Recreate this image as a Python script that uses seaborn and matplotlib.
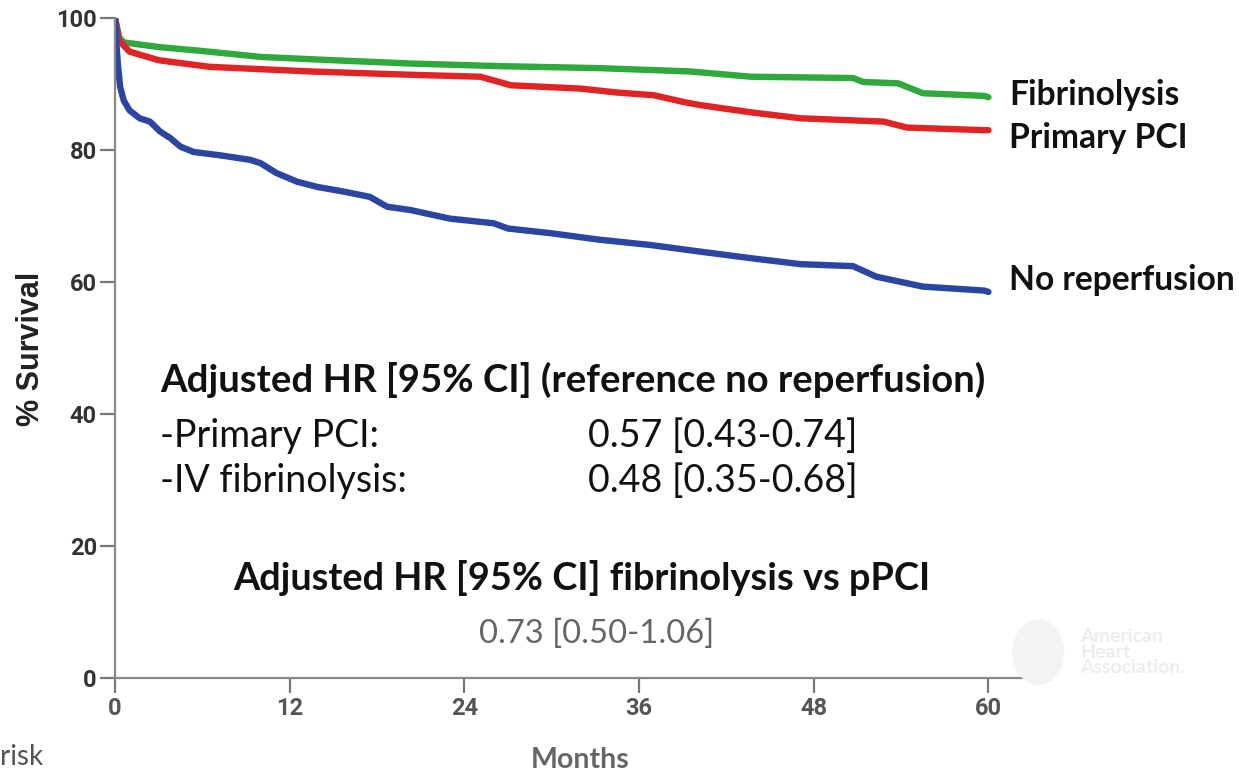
import matplotlib
matplotlib.use("Agg")
import matplotlib.pyplot as plt
from matplotlib.patches import Ellipse
import seaborn as sns
import pandas as pd

# ---- data ----
fib_months = [0, 0.3, 0.6, 3, 6, 10, 15, 20.3, 26.5, 33.3, 39.5, 43.7, 50.7, 51.4, 53.8, 55.5, 59.7, 60]
fib_surv   = [100, 97, 96.3, 95.6, 95, 94.1, 93.6, 93.1, 92.7, 92.4, 91.9, 91.1, 90.9, 90.3, 90.1, 88.6, 88.2, 88.0]

pci_months = [0, 0.3, 1, 3, 6.5, 13.4, 20.3, 25.1, 27.2, 32, 34.5, 37, 39, 40.2, 43.7, 47.1, 52.8, 54.4, 59.7, 60]
pci_surv   = [100, 96.5, 94.9, 93.6, 92.6, 91.9, 91.4, 91.1, 89.8, 89.3, 88.7, 88.3, 87.3, 86.8, 85.7, 84.8, 84.3, 83.4, 83.0, 83.0]

nor_months = [0, 0.1, 0.2, 0.35, 0.6, 1.0, 1.7, 2.4, 3.1, 3.8, 4.5, 5.4, 7.2, 9.3, 10, 11.1, 12.5, 13.9,
              15.7, 17.5, 18.7, 20.3, 23, 26, 27, 29.9, 33.3, 36.8, 40.2, 43.7, 47.1, 50.7, 52.3, 55.5, 59.7, 60]
nor_surv   = [100, 96, 93, 89.6, 87.5, 86, 84.8, 84.3, 82.8, 81.8, 80.5, 79.7, 79.2, 78.5, 78, 76.5, 75.2, 74.4,
              73.7, 72.9, 71.4, 70.9, 69.6, 68.9, 68.1, 67.4, 66.4, 65.6, 64.6, 63.6, 62.7, 62.4, 60.8, 59.3, 58.7, 58.5]

groups = ["Fibrinolysis", "Primary PCI", "No reperfusion"]
colors = ["#2fa83c", "#e02424", "#2a46a2"]
x_ticks = [0, 12, 24, 36, 48, 60]
y_ticks = [0, 20, 40, 60, 80, 100]

df = pd.concat([
    pd.DataFrame({"month": fib_months, "surv": fib_surv, "group": groups[0]}),
    pd.DataFrame({"month": pci_months, "surv": pci_surv, "group": groups[1]}),
    pd.DataFrame({"month": nor_months, "surv": nor_surv, "group": groups[2]}),
], ignore_index=True)

sns.set_style("white")
plt.rcParams['font.family'] = ['Lato', 'DejaVu Sans']

fig = plt.figure(figsize=(12.39, 7.72), dpi=100)
ax = fig.add_axes([0.0928, 0.1218, 0.833 - 0.0928, 0.9767 - 0.1218])

# faint watermark (behind everything)
fig.patches.append(Ellipse((0.838, 0.155), 0.042, 0.085, transform=fig.transFigure,
                           facecolor='#f3f3f3', edgecolor='none', zorder=0))
fig.text(0.872, 0.155, "American\nHeart\nAssociation.", ha='left', va='center', fontsize=14,
         fontweight='bold', color='#ededed', linespacing=0.9, zorder=0)

sns.lineplot(data=df, x="month", y="surv", hue="group", hue_order=groups,
             palette=dict(zip(groups, colors)), estimator=None, sort=False,
             linewidth=4.6, legend=False, ax=ax)
ax.patch.set_alpha(0)

ax.set_xlim(0, 63)
ax.set_ylim(0, 100)
ax.set_xticks(x_ticks)
ax.set_yticks(y_ticks)
narrow = ['Liberation Sans Narrow', 'Roboto', 'DejaVu Sans']
ax.set_xticklabels([str(t) for t in x_ticks], family=narrow, fontweight='bold', fontsize=17, color='#555555')
ax.set_yticklabels([str(t) for t in y_ticks], family=narrow, fontweight='bold', fontsize=17, color='#333333')
for s in ["top", "right"]:
    ax.spines[s].set_visible(False)
for s in ["left", "bottom"]:
    ax.spines[s].set_color("#888888")
    ax.spines[s].set_linewidth(1.6)
ax.tick_params(axis='both', bottom=True, left=True, direction='out', length=11, width=1.6,
               color='#777777', pad=2)
ax.tick_params(axis='x', pad=3)
ax.set_xlabel("")
ax.set_ylabel("")

fig.text(0.025, 0.548, "% Survival", rotation=90, ha='center', va='center',
         family=['Liberation Sans', 'DejaVu Sans'], fontweight='bold', fontsize=22, color='#222222')
fig.text(0.468, 0.015, "Months", ha='center', va='center', fontweight='bold', fontsize=20.5, color='#666666')
fig.text(0.0, 0.002, "risk", ha='left', va='bottom', fontsize=20, color='#555555')

# right-hand labels
for name, y in zip(groups, [88.3, 81.8, 60.3]):
    ax.text(61.4, y, name, ha='left', va='center', fontweight='bold', fontsize=24.2,
            color='#111111', clip_on=False)

# annotations
ax.text(3.1, 45.2, "Adjusted HR [95% CI] (reference no reperfusion)", ha='left', va='center',
        fontweight='bold', fontsize=27.5, color='#111111')
ax.text(3.1, 36.7, "-Primary PCI:", ha='left', va='center', fontsize=27, color='#111111')
ax.text(32.5, 36.7, "0.57 [0.43-0.74]", ha='left', va='center', fontsize=27, color='#111111')
ax.text(3.1, 29.8, "-IV fibrinolysis:", ha='left', va='center', fontsize=27, color='#111111')
ax.text(32.5, 29.8, "0.48 [0.35-0.68]", ha='left', va='center', fontsize=27, color='#111111')
ax.text(32.1, 15.2, "Adjusted HR [95% CI] fibrinolysis vs pPCI", ha='center', va='center',
        fontweight='bold', fontsize=27.3, color='#111111')
ax.text(33.1, 6.7, "0.73 [0.50-1.06]", ha='center', va='center', fontsize=23.6, color='#666666')

fig.savefig("out.png", dpi=100)
